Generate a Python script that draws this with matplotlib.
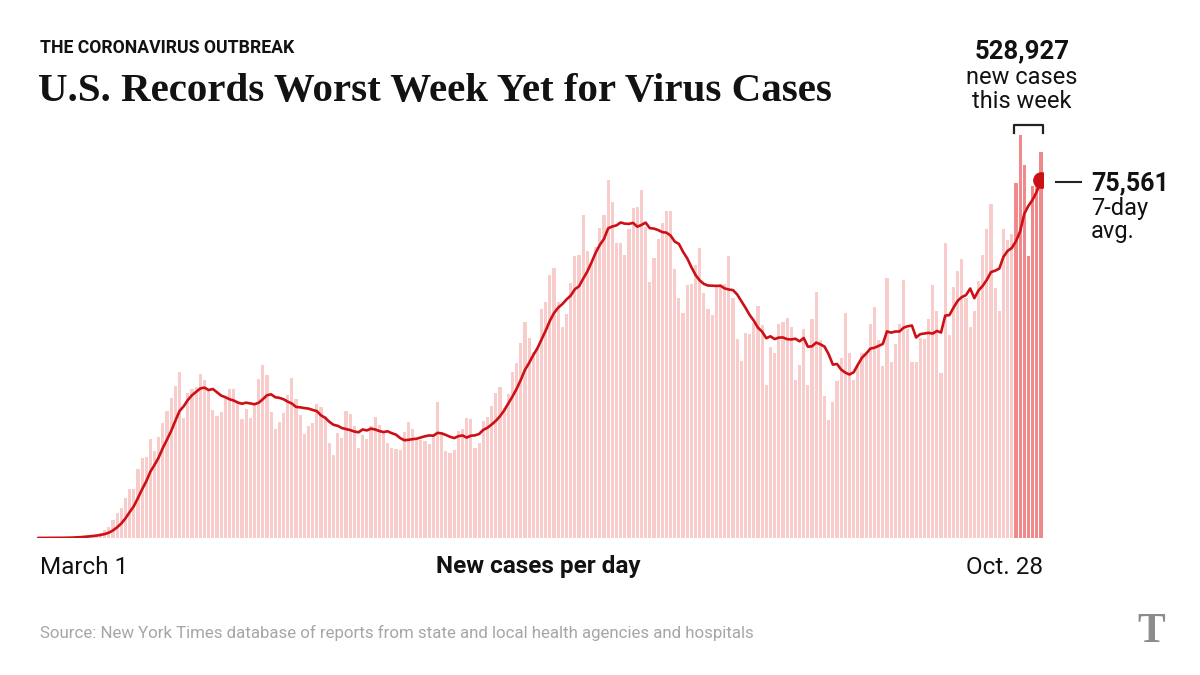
import numpy as np
import pandas as pd
import matplotlib
matplotlib.use("Agg")
import matplotlib.pyplot as plt
from matplotlib.lines import Line2D

# daily new cases, March 1 - Oct. 28
march = [15, 20, 25, 30, 55, 75, 100, 110, 170, 260, 390, 470, 650, 720, 850, 1150, 1600,
         2400, 3800, 5300, 6400, 8400, 10300, 10300, 14500, 16800, 17000, 20800, 18400, 21400, 24300]
april = [26800, 29600, 32100, 35000, 25400, 30700, 31400, 31800, 34500, 33300,
         31400, 27000, 25700, 26600, 29500, 31500, 31400, 28400, 25200, 27300,
         25400, 28400, 33600, 36600, 34300, 26600, 23000, 24500, 26300, 30100]
may = [33800, 29300, 26000, 21900, 23700, 24300, 28300, 27600, 25700, 20100,
       17500, 22200, 21000, 26800, 26100, 23600, 18900, 21700, 20800, 23600,
       25600, 23800, 22100, 20000, 18900, 18700, 18600, 22300, 24400, 23100, 20700]
june = [20700, 20500, 19800, 21900, 28600, 22300, 18400, 18000, 18600, 22600,
        23000, 25400, 25100, 18900, 20100, 24700, 25600, 27900, 30700, 31900,
        27500, 30400, 35000, 36900, 41100, 45500, 42100, 39200, 40400, 48300]
july = [49900, 55500, 57000, 49900, 44600, 47200, 53900, 59400, 59800, 68200,
        60600, 58000, 61500, 65500, 68200, 75500, 70800, 62300, 62200, 59800,
        65200, 69600, 69900, 73400, 65700, 54100, 59100, 63100, 66500, 69100, 69100]
august = [56800, 50700, 47400, 53400, 53600, 57500, 61100, 51600, 48300, 47100,
          53200, 53700, 53700, 59400, 50700, 42000, 37400, 43200, 43000, 45300,
          49000, 44900, 32300, 40200, 39100, 45200, 45500, 46500, 44500, 33300, 36400]
september = [44000, 32300, 46200, 52000, 41800, 30000, 25000, 28800, 33200, 37900,
             47500, 39100, 33300, 36200, 39100, 39300, 45200, 48800, 41800, 36200,
             54800, 37200, 41000, 45200, 54400, 44000, 37200, 37200, 42100, 41900]
october = [46200, 53400, 47800, 34900, 62200, 42800, 53000, 56300, 58900, 50700,
           44600, 47900, 54200, 59800, 65200, 70400, 52700, 47800, 65300, 62900,
           64100, 75000, 85000, 78700, 59600, 74300, 74800, 81400]

daily = np.array(march + april + may + june + july + august + september + october)
dates = pd.date_range("2020-03-01", periods=len(daily), freq="D")
avg7 = pd.Series(daily).rolling(7, min_periods=1).mean().values

week_total = "528,927"
week_avg = "75,561"

light_red = "#f9cccc"
dark_red = "#f08a8a"
line_red = "#cc1016"
sans = ["Roboto", "DejaVu Sans"]
serif = ["Liberation Serif", "DejaVu Serif"]

W, H = 1200, 675
fig = plt.figure(figsize=(12, 6.75), dpi=100)
fig.patch.set_facecolor("white")


def fx(px):
    return px / W


def fy(py):
    return 1 - py / H


ax = fig.add_axes([fx(36), fy(538), fx(1043) - fx(36), fy(120) - fy(538)])
x = np.arange(len(daily))
colors = [dark_red if i >= len(daily) - 7 else light_red for i in x]
ax.bar(x, daily, width=0.76, color=colors, linewidth=0)
ax.plot(x, avg7, color=line_red, lw=1.9, solid_capstyle="round", zorder=3)
ax.plot(x[-1], avg7[-1], "o", color=line_red, ms=11, zorder=4)
ax.set_xlim(-0.5, len(daily) - 0.5)
ax.set_ylim(0, 88200)
ax.axis("off")

# bracket over the last week
bx0, bx1 = len(daily) - 7.5, len(daily) - 0.6
ax.plot([bx0, bx0, bx1, bx1], [85400, 87200, 87200, 85400], color="#222222",
        lw=1.6, clip_on=False)

# headline
fig.text(fx(40), fy(48), "THE CORONAVIRUS OUTBREAK", fontsize=12.7, fontweight="bold",
         family=sans, va="center", ha="left", color="#121212")
fig.text(fx(38), fy(91), "U.S. Records Worst Week Yet for Virus Cases", fontsize=29.5,
         fontweight="bold", family=serif, va="center", ha="left", color="#121212")

# weekly total annotation
fig.text(fx(1022), fy(51), week_total, fontsize=18.5, fontweight="bold", family=sans,
         ha="center", va="center", color="#121212")
fig.text(fx(1022), fy(77), "new cases", fontsize=17, family=sans, ha="center",
         va="center", color="#121212")
fig.text(fx(1022), fy(101), "this week", fontsize=17, family=sans, ha="center",
         va="center", color="#121212")

# 7-day average annotation
fig.add_artist(Line2D([fx(1056), fx(1081)], [fy(182), fy(182)], color="#222222", lw=1.5))
fig.text(fx(1091), fy(183), week_avg, fontsize=18, fontweight="bold", family=sans,
         ha="left", va="center", color="#121212")
fig.text(fx(1091), fy(208), "7-day", fontsize=17, family=sans, ha="left",
         va="center", color="#121212")
fig.text(fx(1091), fy(232), "avg.", fontsize=17, family=sans, ha="left",
         va="center", color="#121212")

# axis labels
fig.text(fx(40), fy(567), dates[0].strftime("%B ") + str(dates[0].day), fontsize=17.5,
         family=sans, ha="left", va="center", color="#121212")
fig.text(fx(538), fy(567), "New cases per day", fontsize=17.5, fontweight="bold",
         family=sans, ha="center", va="center", color="#121212")
fig.text(fx(1043), fy(567), "Oct. " + str(dates[-1].day), fontsize=17.5, family=sans,
         ha="right", va="center", color="#121212")

# source + logo
fig.text(fx(40), fy(633), "Source: New York Times database of reports from state and local "
         "health agencies and hospitals", fontsize=12.2, family=sans, ha="left",
         va="center", color="#a6a6a6")
fig.text(fx(1151), fy(632), "T", fontsize=30, fontweight="bold", family=serif,
         ha="center", va="center", color="#8c8c8c")

fig.savefig("out.png", dpi=100, facecolor="white")
